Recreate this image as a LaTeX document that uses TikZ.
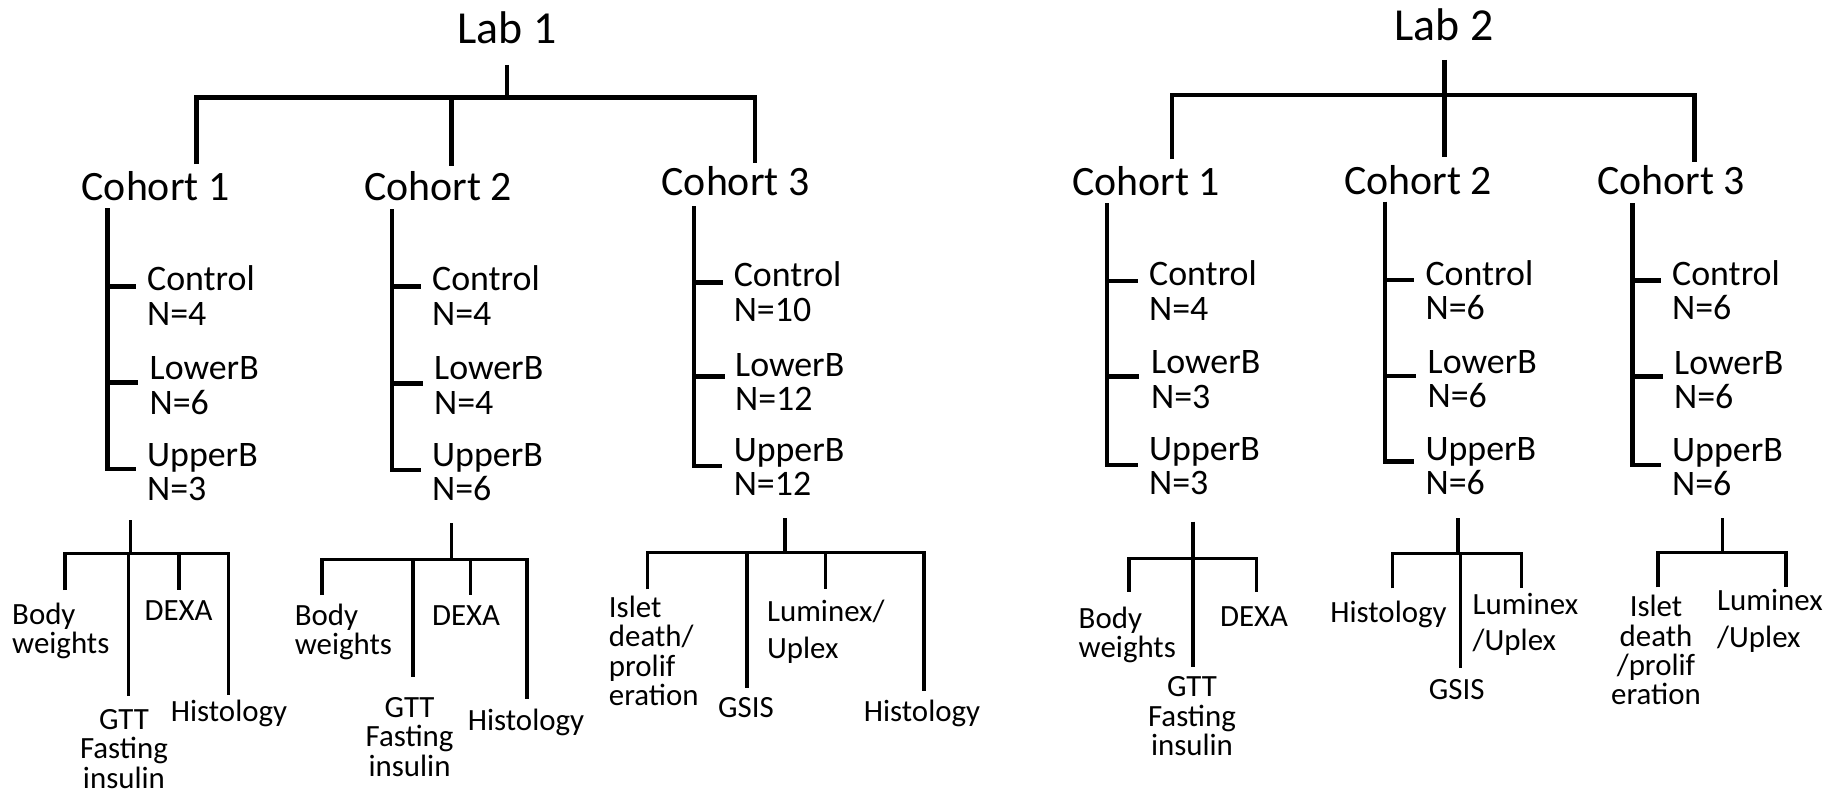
\documentclass[tikz,border=0pt]{standalone}
\usepackage{fontspec}
\setmainfont{Carlito}
\newcommand\mlL[1]{\vtop{\lineskiplimit=-1000pt\relax\halign{##\hfil\cr#1\crcr}}}
\newcommand\mlC[1]{\vtop{\lineskiplimit=-1000pt\relax\halign{\hfil##\hfil\cr#1\crcr}}}
\begin{document}
\begin{tikzpicture}[x=1bp,y=-1bp,
  labtxt/.style={font=\fontsize{46}{50}\selectfont, inner sep=0, anchor=base},
  cohtxt/.style={font=\fontsize{42}{46}\selectfont, inner sep=0, anchor=base},
  grptxt/.style={font=\fontsize{36}{35}\selectfont, inner sep=0, anchor=base west},
  leafL/.style={font=\fontsize{31}{29.5}\selectfont, inner sep=0, anchor=base west},
  leafC/.style={font=\fontsize{31}{29.5}\selectfont, inner sep=0, anchor=base},
  lumtxt/.style={font=\fontsize{31}{36.5}\selectfont, inner sep=0, anchor=base west},
  mainline/.style={line width=4.5bp, line join=miter},
  lowline/.style={line width=3.5bp, line join=miter}]
\fill[white] (0,0) rectangle (1843,794);
\useasboundingbox (0,0) rectangle (1843,794);

% ---------- titles ----------
\node[labtxt] (lab1) at (507,43.3) {Lab 1};
\node[labtxt] (lab2) at (1444,40.7) {Lab 2};
\node[cohtxt] (l1c1) at (155.5,200) {Cohort 1};
\node[cohtxt] (l1c2) at (438,200) {Cohort 2};
\node[cohtxt] (l1c3) at (735.5,195) {Cohort 3};
\node[cohtxt] (l2c1) at (1146,195) {Cohort 1};
\node[cohtxt] (l2c2) at (1418,194) {Cohort 2};
\node[cohtxt] (l2c3) at (1671,194) {Cohort 3};

% ---------- upper trees ----------
\coordinate (t1) at (507,65);   \coordinate (j1) at (507,97.7);
\coordinate (bl1) at (196.5,97.7); \coordinate (br1) at (755,97.7);
\coordinate (d11) at (196.5,164); \coordinate (d12) at (451.5,165.7); \coordinate (d13) at (755,163.3);
\draw[mainline] (t1) -- (j1);
\draw[mainline] (d11) -- (bl1) -- (br1) -- (d13);
\draw[mainline] (d12 |- bl1) -- (d12);

\coordinate (t2) at (1444.7,60);
\coordinate (bl2) at (1172,95); \coordinate (br2) at (1694.7,95);
\coordinate (d21) at (1172,159); \coordinate (d22) at (1444.7,157.3); \coordinate (d23) at (1694.7,162.3);
\draw[mainline] (t2) -- (d22);
\draw[mainline] (d21) -- (bl2) -- (br2) -- (d23);

% ---------- group brackets ----------
\coordinate (v11) at (107.5,208.3); \coordinate (k111) at (136,286.7); \coordinate (k112) at (138,382.7); \coordinate (k113) at (136,469);
\coordinate (v12) at (392,209.3);   \coordinate (k121) at (421,286.7); \coordinate (k122) at (423,383.3); \coordinate (k123) at (421,470);
\coordinate (v13) at (694,206);     \coordinate (k131) at (722.5,282.3); \coordinate (k132) at (724.5,376.7); \coordinate (k133) at (722,466);
\coordinate (v21) at (1107,203.3);  \coordinate (k211) at (1138,281); \coordinate (k212) at (1139,376.7); \coordinate (k213) at (1138,465);
\coordinate (v22) at (1385,201.7);  \coordinate (k221) at (1414,280); \coordinate (k222) at (1416.4,376); \coordinate (k223) at (1414,461.7);
\coordinate (v23) at (1632.4,203.3); \coordinate (k231) at (1661,280.7); \coordinate (k232) at (1663,376.7); \coordinate (k233) at (1661,465);
\foreach \g in {11,12,13,21,22,23}{
  \draw[mainline] (v\g) |- (k\g3);
  \draw[mainline] (k\g1 -| v\g) -- (k\g1);
  \draw[mainline] (k\g2 -| v\g) -- (k\g2);
}

% ---------- group labels ----------
\node[grptxt] (g111) at (147,290.7) {\mlL{Control\cr N=4}};
\node[grptxt] (g112) at (149.5,379.5) {\mlL{LowerB\cr N=6}};
\node[grptxt] (g113) at (147,466) {\mlL{UpperB\cr N=3}};
\node[grptxt] (g121) at (432,290.7) {\mlL{Control\cr N=4}};
\node[grptxt] (g122) at (434,379.5) {\mlL{LowerB\cr N=4}};
\node[grptxt] (g123) at (432,466) {\mlL{UpperB\cr N=6}};
\node[grptxt] (g131) at (733.6,286.7) {\mlL{Control\cr N=10}};
\node[grptxt] (g132) at (735,376) {\mlL{LowerB\cr N=12}};
\node[grptxt] (g133) at (733.6,461) {\mlL{UpperB\cr N=12}};
\node[grptxt] (g211) at (1149,285.5) {\mlL{Control\cr N=4}};
\node[grptxt] (g212) at (1151,373.5) {\mlL{LowerB\cr N=3}};
\node[grptxt] (g213) at (1149,460) {\mlL{UpperB\cr N=3}};
\node[grptxt] (g221) at (1425.4,285) {\mlL{Control\cr N=6}};
\node[grptxt] (g222) at (1427.5,373) {\mlL{LowerB\cr N=6}};
\node[grptxt] (g223) at (1425.4,460) {\mlL{UpperB\cr N=6}};
\node[grptxt] (g231) at (1672,285) {\mlL{Control\cr N=6}};
\node[grptxt] (g232) at (1674,374) {\mlL{LowerB\cr N=6}};
\node[grptxt] (g233) at (1672,461) {\mlL{UpperB\cr N=6}};

% ---------- lower trees ----------
% Lab 1 cohort 1
\coordinate (s11) at (130.5,520); \coordinate (b11l) at (65,553.3); \coordinate (b11r) at (228.5,553.3);
\coordinate (e111) at (65,590); \coordinate (e112) at (128.5,696); \coordinate (e113) at (179,590); \coordinate (e114) at (228.5,695);
\draw[lowline] (s11) -- (s11 |- b11l);
\draw[lowline] (e111) -- (b11l) -- (b11r) -- (e114);
\draw[lowline] (e112 |- b11l) -- (e112);
\draw[lowline] (e113 |- b11l) -- (e113);
% Lab 1 cohort 2
\coordinate (s12) at (451.6,523.3); \coordinate (b12l) at (322,559.3); \coordinate (b12r) at (527,559.3);
\coordinate (e121) at (322,595); \coordinate (e122) at (413,676.7); \coordinate (e123) at (470.5,595); \coordinate (e124) at (527,699.3);
\draw[lowline] (s12) -- (s12 |- b12l);
\draw[lowline] (e121) -- (b12l) -- (b12r) -- (e124);
\draw[lowline] (e122 |- b12l) -- (e122);
\draw[lowline] (e123 |- b12l) -- (e123);
% Lab 1 cohort 3
\coordinate (s13) at (785,518.3); \coordinate (b13l) at (647.4,552.7); \coordinate (b13r) at (924.2,552.7);
\coordinate (e131) at (647.4,589.3); \coordinate (e132) at (747,688.3); \coordinate (e133) at (825.4,589.3); \coordinate (e134) at (924.2,690.7);
\draw[lowline] (s13) -- (s13 |- b13l);
\draw[lowline] (e131) -- (b13l) -- (b13r) -- (e134);
\draw[lowline] (e132 |- b13l) -- (e132);
\draw[lowline] (e133 |- b13l) -- (e133);
% Lab 2 cohort 1
\coordinate (s21) at (1193,521.7); \coordinate (b21l) at (1129,558.3); \coordinate (b21r) at (1256.6,558.3);
\coordinate (e211) at (1129,591.7); \coordinate (e212) at (1193,666.7); \coordinate (e213) at (1256.6,591.7);
\draw[lowline] (s21) -- (e212);
\draw[lowline] (e211) -- (b21l) -- (b21r) -- (e213);
% Lab 2 cohort 2
\coordinate (s22) at (1458.2,518.3); \coordinate (b22l) at (1392.6,553.3); \coordinate (b22r) at (1521.7,553.3);
\coordinate (e221) at (1392.6,588.3); \coordinate (e222) at (1460.7,668.3); \coordinate (e223) at (1521.7,588.3);
\draw[lowline] (s22) -- (s22 |- b22l);
\draw[lowline] (e221) -- (b22l) -- (b22r) -- (e223);
\draw[lowline] (e222 |- b22l) -- (e222);
% Lab 2 cohort 3
\coordinate (s23) at (1722.5,518.3); \coordinate (b23l) at (1657.8,552.7); \coordinate (b23r) at (1786,552.7);
\coordinate (e231) at (1657.8,587.3); \coordinate (e232) at (1786,587.3);
\draw[lowline] (s23) -- (s23 |- b23l);
\draw[lowline] (e231) -- (b23l) -- (b23r) -- (e232);

% ---------- leaves ----------
\node[leafL] (f111) at (12,624) {\mlL{Body\cr weights}};
\node[leafC] (f113) at (178.5,620.7) {DEXA};
\node[leafC] (f112) at (124,729.5) {\mlC{GTT\cr Fasting\cr insulin}};
\node[leafC] (f114) at (229,721.7) {Histology};

\node[leafL] (f121) at (294.6,625) {\mlL{Body\cr weights}};
\node[leafC] (f123) at (466,625) {DEXA};
\node[leafC] (f122) at (409.6,717.3) {\mlC{GTT\cr Fasting\cr insulin}};
\node[leafC] (f124) at (526,730.7) {Histology};

\node[leafL] (f131) at (608.7,617.3) {\mlL{Islet\cr death/\cr prolif\cr eration}};
\node[leafC] (f132) at (746,717.3) {GSIS};
\node[lumtxt] (f133) at (766.9,621.7) {\mlL{Luminex/\cr Uplex}};
\node[leafC] (f134) at (922,721.7) {Histology};

\node[leafL] (f211) at (1078.5,628.3) {\mlL{Body\cr weights}};
\node[leafC] (f213) at (1254,626.7) {DEXA};
\node[leafC] (f212) at (1192,696.7) {\mlC{GTT\cr Fasting\cr insulin}};

\node[leafC] (f221) at (1388.5,622.7) {Histology};
\node[leafC] (f222) at (1456.7,699.3) {GSIS};
\node[lumtxt] (f223) at (1472.5,614) {\mlL{Luminex\cr /Uplex}};

\node[leafC] (f231) at (1656,616.7) {\mlC{Islet\cr death\cr /prolif\cr eration}};
\node[lumtxt] (f232) at (1717,610.7) {\mlL{Luminex\cr /Uplex}};
\end{tikzpicture}
\end{document}
